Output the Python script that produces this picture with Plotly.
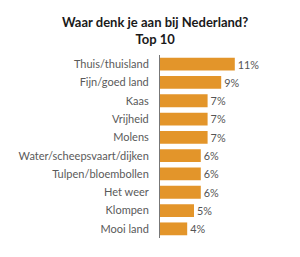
import plotly.graph_objects as go

categories = ["Thuis/thuisland", "Fijn/goed land", "Kaas", "Vrijheid", "Molens",
              "Water/scheepsvaart/dijken", "Tulpen/bloembollen", "Het weer",
              "Klompen", "Mooi land"]
values = [11, 9, 7, 7, 7, 6, 6, 6, 5, 4]
labels = [f"{v}%" for v in values]
title_lines = ["Waar denk je aan bij Nederland?", "Top 10"]

H, T, B = 257, 55, 19
ph = H - T - B

def py(p):
    return (H - B - p) / ph

fig = go.Figure(go.Bar(
    x=values, y=categories, orientation="h",
    marker=dict(color="#E3952A", line=dict(width=0)),
    text=labels, textposition="outside", cliponaxis=False,
    textfont=dict(color="#555555", size=11, family="Lato"),
))
fig.add_annotation(text="<b>" + "<br>".join(title_lines) + "</b>",
                   xref="paper", yref="paper",
                   x=(155 - 160) / 136, y=py(30), xanchor="center",
                   yanchor="middle", showarrow=False, align="center",
                   font=dict(size=13, color="#1a1a1a", family="Lato"))
fig.update_layout(
    width=300, height=H,
    margin=dict(l=160, r=4, t=T, b=B),
    paper_bgcolor="white", plot_bgcolor="white",
    bargap=0.3,
    showlegend=False,
    font=dict(family="Lato", color="#555555", size=11),
)
fig.update_xaxes(range=[0, 20], visible=False, fixedrange=True)
fig.update_yaxes(autorange="reversed", showline=True, linecolor="#777777",
                 linewidth=1, ticks="", ticklabelstandoff=8, showgrid=False,
                 tickfont=dict(color="#5a5a5a", size=11, family="Lato"))
fig.write_html("out.html")
